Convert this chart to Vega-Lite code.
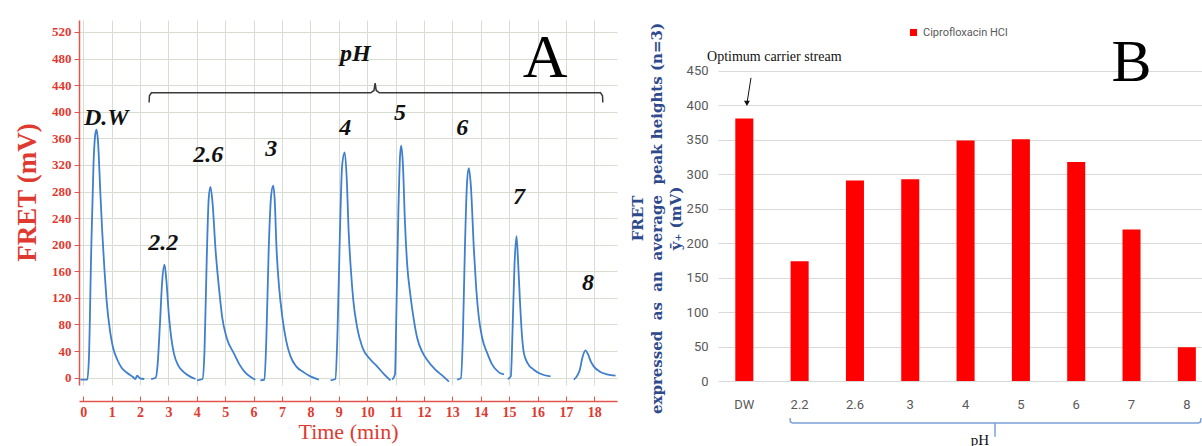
{
"$schema": "https://vega.github.io/schema/vega-lite/v6.json",
"padding": {"left": 13, "top": 20, "right": 0, "bottom": 0},
"spacing": 9,
"background": "white",
"config": {"view": {"stroke": null}},
"hconcat": [
{
 "width": 538, "height": 365,
 "encoding": {
  "x": {"field": "t", "type": "quantitative",
    "scale": {"domain": [-0.15, 18.8], "nice": false, "zero": false},
    "axis": {"values": [0,1,2,3,4,5,6,7,8,9,10,11,12,13,14,15,16,17,18], "format": "d", "offset": 16, "labelOverlap": false,
      "grid": true, "gridColor": "#d8ddd2", "domainColor": "#e2554d", "domainWidth": 1.5, "tickColor": "#e2554d", "tickSize": -5,
      "labelFont": "Liberation Serif", "labelFontWeight": "bold", "labelFontSize": 14, "labelColor": "#de3a30", "labelPadding": 9,
      "title": "Time (min)", "titleFont": "Liberation Serif", "titleFontSize": 22, "titleFontWeight": "normal", "titleColor": "#de3a30", "titlePadding": 2}},
  "y": {"field": "v", "type": "quantitative",
    "scale": {"domain": [-11, 538], "nice": false, "zero": false},
    "axis": {"values": [0,40,80,120,160,200,240,280,320,360,400,440,480,520], "labelOverlap": false,
      "grid": true, "gridColor": "#d8ddd2", "domainColor": "#e2554d", "domainWidth": 1.5, "tickColor": "#e2554d", "tickSize": 5,
      "labelFont": "Liberation Serif", "labelFontWeight": "bold", "labelFontSize": 13, "labelColor": "#de3a30", "labelPadding": 3,
      "title": "FRET (mV)", "titleFont": "Liberation Serif", "titleFontSize": 27, "titleFontWeight": "bold", "titleColor": "#de3a30", "titlePadding": 10, "titleY": 172}}
 },
 "layer": [
  {
   "data": {"values": [
    {"seg":"DW","t":-0.1,"v":-3},{"seg":"DW","t":0.14,"v":-3},{"seg":"DW","t":0.2,"v":30},{"seg":"DW","t":0.28,"v":190},{"seg":"DW","t":0.36,"v":320},{"seg":"DW","t":0.43,"v":368},{"seg":"DW","t":0.47,"v":373},{"seg":"DW","t":0.52,"v":355},{"seg":"DW","t":0.6,"v":280},{"seg":"DW","t":0.67,"v":218},{"seg":"DW","t":0.75,"v":160},{"seg":"DW","t":0.82,"v":117},{"seg":"DW","t":0.95,"v":68},{"seg":"DW","t":1.05,"v":45},{"seg":"DW","t":1.2,"v":27},{"seg":"DW","t":1.35,"v":15},{"seg":"DW","t":1.55,"v":7},{"seg":"DW","t":1.75,"v":1},{"seg":"DW","t":1.83,"v":-2},{"seg":"DW","t":1.9,"v":3},{"seg":"DW","t":2.0,"v":-1},{"seg":"DW","t":2.15,"v":-2},
    {"seg":"2.2","t":2.39,"v":-2},{"seg":"2.2","t":2.55,"v":0},{"seg":"2.2","t":2.62,"v":20},{"seg":"2.2","t":2.7,"v":80},{"seg":"2.2","t":2.78,"v":145},{"seg":"2.2","t":2.86,"v":170},{"seg":"2.2","t":2.92,"v":150},{"seg":"2.2","t":3.02,"v":92},{"seg":"2.2","t":3.1,"v":60},{"seg":"2.2","t":3.19,"v":37},{"seg":"2.2","t":3.35,"v":18},{"seg":"2.2","t":3.55,"v":8},{"seg":"2.2","t":3.75,"v":2},{"seg":"2.2","t":3.95,"v":-2},
    {"seg":"2.6","t":4.01,"v":-4},{"seg":"2.6","t":4.2,"v":-2},{"seg":"2.6","t":4.27,"v":40},{"seg":"2.6","t":4.35,"v":180},{"seg":"2.6","t":4.42,"v":270},{"seg":"2.6","t":4.48,"v":287},{"seg":"2.6","t":4.55,"v":265},{"seg":"2.6","t":4.66,"v":192},{"seg":"2.6","t":4.78,"v":135},{"seg":"2.6","t":4.89,"v":92},{"seg":"2.6","t":5.05,"v":60},{"seg":"2.6","t":5.3,"v":37},{"seg":"2.6","t":5.5,"v":20},{"seg":"2.6","t":5.7,"v":8},{"seg":"2.6","t":5.9,"v":1},{"seg":"2.6","t":6.06,"v":-3},
    {"seg":"3","t":6.24,"v":-4},{"seg":"3","t":6.38,"v":-3},{"seg":"3","t":6.45,"v":60},{"seg":"3","t":6.53,"v":190},{"seg":"3","t":6.62,"v":275},{"seg":"3","t":6.69,"v":289},{"seg":"3","t":6.74,"v":270},{"seg":"3","t":6.81,"v":192},{"seg":"3","t":6.9,"v":135},{"seg":"3","t":7.01,"v":92},{"seg":"3","t":7.15,"v":55},{"seg":"3","t":7.3,"v":32},{"seg":"3","t":7.5,"v":17},{"seg":"3","t":7.77,"v":8},{"seg":"3","t":8.0,"v":2},{"seg":"3","t":8.3,"v":-3},
    {"seg":"4","t":8.71,"v":-4},{"seg":"4","t":8.88,"v":-2},{"seg":"4","t":8.95,"v":60},{"seg":"4","t":9.03,"v":200},{"seg":"4","t":9.12,"v":320},{"seg":"4","t":9.21,"v":339},{"seg":"4","t":9.28,"v":300},{"seg":"4","t":9.35,"v":218},{"seg":"4","t":9.43,"v":160},{"seg":"4","t":9.51,"v":117},{"seg":"4","t":9.65,"v":75},{"seg":"4","t":9.82,"v":47},{"seg":"4","t":10.1,"v":28},{"seg":"4","t":10.35,"v":17},{"seg":"4","t":10.6,"v":5},{"seg":"4","t":10.82,"v":-4},
    {"seg":"5","t":10.88,"v":-3},{"seg":"5","t":10.98,"v":5},{"seg":"5","t":11.03,"v":100},{"seg":"5","t":11.1,"v":250},{"seg":"5","t":11.16,"v":335},{"seg":"5","t":11.2,"v":349},{"seg":"5","t":11.26,"v":320},{"seg":"5","t":11.33,"v":235},{"seg":"5","t":11.41,"v":170},{"seg":"5","t":11.52,"v":125},{"seg":"5","t":11.64,"v":88},{"seg":"5","t":11.76,"v":60},{"seg":"5","t":11.95,"v":38},{"seg":"5","t":12.11,"v":27},{"seg":"5","t":12.4,"v":12},{"seg":"5","t":12.65,"v":3},{"seg":"5","t":12.88,"v":-6},
    {"seg":"6","t":13.17,"v":-3},{"seg":"6","t":13.3,"v":-1},{"seg":"6","t":13.37,"v":60},{"seg":"6","t":13.44,"v":190},{"seg":"6","t":13.52,"v":295},{"seg":"6","t":13.58,"v":315},{"seg":"6","t":13.65,"v":290},{"seg":"6","t":13.76,"v":192},{"seg":"6","t":13.84,"v":135},{"seg":"6","t":13.93,"v":92},{"seg":"6","t":14.05,"v":60},{"seg":"6","t":14.23,"v":37},{"seg":"6","t":14.4,"v":20},{"seg":"6","t":14.64,"v":8},{"seg":"6","t":14.82,"v":5},
    {"seg":"7","t":14.95,"v":-2},{"seg":"7","t":15.06,"v":2},{"seg":"7","t":15.12,"v":70},{"seg":"7","t":15.19,"v":170},{"seg":"7","t":15.26,"v":213},{"seg":"7","t":15.31,"v":180},{"seg":"7","t":15.38,"v":117},{"seg":"7","t":15.45,"v":65},{"seg":"7","t":15.52,"v":37},{"seg":"7","t":15.65,"v":22},{"seg":"7","t":15.87,"v":12},{"seg":"7","t":16.1,"v":6},{"seg":"7","t":16.46,"v":2},
    {"seg":"8","t":17.28,"v":-3},{"seg":"8","t":17.4,"v":3},{"seg":"8","t":17.49,"v":12},{"seg":"8","t":17.58,"v":30},{"seg":"8","t":17.69,"v":41},{"seg":"8","t":17.78,"v":35},{"seg":"8","t":17.88,"v":24},{"seg":"8","t":17.98,"v":17},{"seg":"8","t":18.2,"v":9},{"seg":"8","t":18.45,"v":5},{"seg":"8","t":18.75,"v":3}
   ]},
   "mark": {"type": "line", "color": "#3f7fcc", "strokeWidth": 1.8, "interpolate": "monotone"},
   "encoding": {"detail": {"field": "seg"}}
  },
  {
   "data": {"values": [
    {"label":"D.W","t":0.81,"v":391},{"label":"2.2","t":2.82,"v":203},{"label":"2.6","t":4.4,"v":335},{"label":"3","t":6.62,"v":344},{"label":"4","t":9.23,"v":376},{"label":"5","t":11.16,"v":398},{"label":"6","t":13.35,"v":376},{"label":"7","t":15.35,"v":272},{"label":"8","t":17.78,"v":143},{"label":"pH","t":9.58,"v":487}
   ]},
   "mark": {"type": "text", "font": "Liberation Serif", "fontSize": 24, "fontWeight": "bold", "fontStyle": "italic", "color": "#111111", "baseline": "middle", "align": "center"},
   "encoding": {"text": {"field": "label"}}
  },
  {
   "data": {"values": [
    {"t":2.32,"v":414},{"t":2.33,"v":424},{"t":2.4,"v":428.5},{"t":10.13,"v":428.5},{"t":10.24,"v":432},{"t":10.28,"v":443},{"t":10.32,"v":432},{"t":10.43,"v":428.5},{"t":18.22,"v":428.5},{"t":18.29,"v":424},{"t":18.3,"v":414}
   ]},
   "mark": {"type": "line", "color": "#3a3a3a", "strokeWidth": 1.5},
   "encoding": {}
  },
  {
   "data": {"values": [{"label":"A","t":16.27,"v":481}]},
   "mark": {"type": "text", "font": "Liberation Serif", "fontSize": 62, "color": "#000000", "baseline": "middle", "align": "center"},
   "encoding": {"text": {"field": "label"}}
  }
 ]
},
{
 "width": 486, "height": 361,
 "layer": [
  {
   "data": {"values": [
    {"cat":"DW","val":381,"series":"Ciprofloxacin HCl"},{"cat":"2.2","val":174,"series":"Ciprofloxacin HCl"},{"cat":"2.6","val":291,"series":"Ciprofloxacin HCl"},{"cat":"3","val":293,"series":"Ciprofloxacin HCl"},{"cat":"4","val":349,"series":"Ciprofloxacin HCl"},{"cat":"5","val":351,"series":"Ciprofloxacin HCl"},{"cat":"6","val":318,"series":"Ciprofloxacin HCl"},{"cat":"7","val":220,"series":"Ciprofloxacin HCl"},{"cat":"8","val":49,"series":"Ciprofloxacin HCl"}
   ]},
   "mark": {"type": "bar"},
   "encoding": {
    "x": {"field": "cat", "type": "nominal", "sort": null,
      "scale": {"paddingInner": 0.674, "paddingOuter": 0.23, "align": 0.68},
      "axis": {"title": null, "domain": false, "ticks": false, "tickSize": 0, "labelPadding": 17, "labelAngle": 0, "grid": false,
        "labelFont": "Liberation Sans Narrow, Arial Narrow, Roboto, sans-serif", "labelFontSize": 13, "labelColor": "#595959"}},
    "y": {"field": "val", "type": "quantitative",
      "scale": {"domain": [0, 524], "nice": false, "zero": false},
      "axis": {"values": [0,50,100,150,200,250,300,350,400,450], "grid": true, "gridColor": "#d9d9d9", "domain": false, "ticks": false, "tickSize": 0, "labelPadding": 10,
        "labelFont": "Liberation Sans Narrow, Arial Narrow, Roboto, sans-serif", "labelFontSize": 13, "labelColor": "#595959",
        "title": ["FRET", "expressed\u00a0\u00a0as\u00a0\u00a0an\u00a0\u00a0average\u00a0\u00a0peak heights (n=3)", "ȳ₊ (mV)"],
        "titleFont": "DejaVu Serif", "titleFontSize": 15, "titleFontWeight": "bold", "titleColor": "#2e4a8c", "titleLineHeight": 19,
        "titleX": -73, "titleY": 198, "titleAlign": "center", "titleAngle": 270, "titleBaseline": "bottom"}},
    "color": {"field": "series", "type": "nominal", "scale": {"range": ["#ff0000"]},
      "legend": {"orient": "none", "legendX": 829, "legendY": 7, "title": null, "symbolType": "square", "symbolSize": 50, "padding": 0,
        "labelFont": "Liberation Sans Narrow, Arial Narrow, Roboto, sans-serif", "labelFontSize": 11, "labelColor": "#595959"}}
   }
  },
  {
   "layer": [
    {
     "data": {"values": [{"i":0.826,"val":-54},{"i":0.835,"val":-59.5},{"i":0.87,"val":-61},{"i":8.21,"val":-61},{"i":8.248,"val":-59.5},{"i":8.257,"val":-54}]},
     "mark": {"type": "line", "color": "#7b9fd8", "strokeWidth": 1.5},
     "encoding": {
      "x": {"field": "i", "type": "quantitative", "scale": {"domain": [-0.4755, 8.311], "nice": false, "zero": false}, "axis": null},
      "y": {"field": "val", "type": "quantitative", "scale": {"domain": [0, 524], "nice": false, "zero": false}}
     }
    },
    {
     "data": {"values": [{"i":4.533,"val":-61,"val2":-81}]},
     "mark": {"type": "rule", "color": "#7b9fd8", "strokeWidth": 1.5},
     "encoding": {
      "x": {"field": "i", "type": "quantitative"},
      "y": {"field": "val", "type": "quantitative"},
      "y2": {"field": "val2"}
     }
    },
    {
     "data": {"values": [{"i":4.26,"val":-93,"label":"pH"}]},
     "mark": {"type": "text", "font": "Liberation Serif", "fontSize": 15, "color": "#111111", "baseline": "alphabetic", "align": "center"},
     "encoding": {"x": {"field": "i", "type": "quantitative"}, "y": {"field": "val", "type": "quantitative"}, "text": {"field": "label"}}
    },
    {
     "data": {"values": [{"i":-0.674,"val":470,"label":"Optimum carrier stream"}]},
     "mark": {"type": "text", "font": "Liberation Serif", "fontSize": 14, "color": "#111111", "baseline": "middle", "align": "left"},
     "encoding": {"x": {"field": "i", "type": "quantitative"}, "y": {"field": "val", "type": "quantitative"}, "text": {"field": "label"}}
    },
    {
     "data": {"values": [{"i":0.121,"val":440},{"i":0.05,"val":404}]},
     "mark": {"type": "line", "color": "#111111", "strokeWidth": 1},
     "encoding": {"x": {"field": "i", "type": "quantitative"}, "y": {"field": "val", "type": "quantitative"}}
    },
    {
     "data": {"values": [{"i":0.048,"val":403}]},
     "mark": {"type": "point", "shape": "triangle-down", "filled": true, "color": "#111111", "size": 35, "opacity": 1},
     "encoding": {"x": {"field": "i", "type": "quantitative"}, "y": {"field": "val", "type": "quantitative"}}
    },
    {
     "data": {"values": [{"i":7.0,"val":461,"label":"B"}]},
     "mark": {"type": "text", "font": "Liberation Serif", "fontSize": 60, "color": "#000000", "baseline": "middle", "align": "center"},
     "encoding": {"x": {"field": "i", "type": "quantitative"}, "y": {"field": "val", "type": "quantitative"}, "text": {"field": "label"}}
    }
   ]
  }
 ],
 "resolve": {"scale": {"x": "independent"}}
}
]
}
